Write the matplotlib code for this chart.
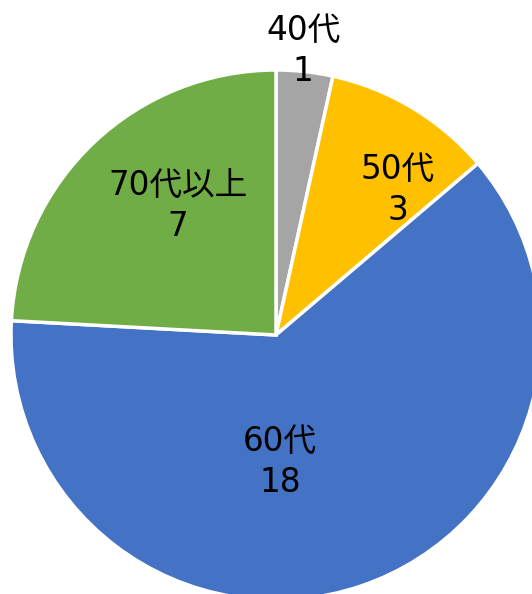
import matplotlib.pyplot as plt

plt.rcParams['font.family'] = ['DejaVu Sans', 'Noto Sans CJK JP']

categories = ['40代', '50代', '60代', '70代以上']
counts = [1, 3, 18, 7]
colors = ['#A5A5A5', '#FFC000', '#4472C4', '#70AD47']
# label centres in pixels relative to the pie centre (x right, y up)
label_xy = [(27, 284), (122, 145), (4, -127), (-98, 129)]

R = 265
fig = plt.figure(figsize=(5.32, 5.94), dpi=100)
ax = fig.add_axes([0, 0, 1, 1])
ax.pie(counts, colors=colors, startangle=90, counterclock=False, radius=R,
       wedgeprops=dict(edgecolor='white', linewidth=2.5))

for cat, n, (x, y) in zip(categories, counts, label_xy):
    ax.text(x, y, f'{cat}\n{n}', ha='center', va='center', fontsize=23.5,
            linespacing=1.3, color='black')

ax.set_xlim(-276, 256)
ax.set_ylim(-259, 335)
ax.set_aspect('equal')
ax.axis('off')

fig.savefig('out.png', dpi=100)
